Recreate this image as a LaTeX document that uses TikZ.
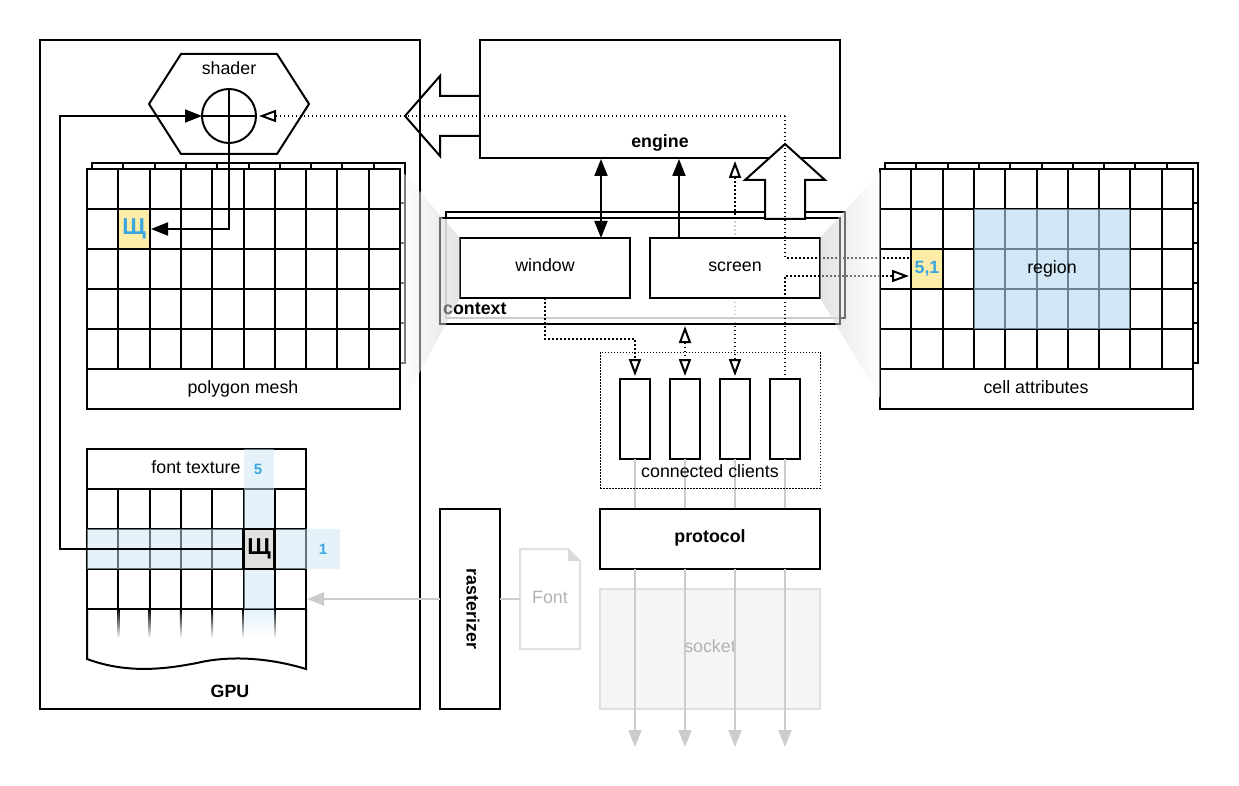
\documentclass[tikz,border=0pt]{standalone}
\usepackage{fontspec}
\setmainfont{Liberation Sans}
\usetikzlibrary{arrows.meta}
\definecolor{cellblue}{HTML}{3AA6DD}
\definecolor{cellyellow}{HTML}{FDEDA8}
\definecolor{rowblue}{HTML}{CBE6F5}
\definecolor{regionblue}{HTML}{B5D9F1}
\definecolor{fadegray}{HTML}{CCCCCC}
\tikzstyle{box} = [draw=black, fill=white, line width=2pt, rectangle, inner sep=0pt, outer sep=0pt]
\tikzstyle{fadebox} = [draw=black!12, line width=2pt, rectangle, inner sep=0pt, outer sep=0pt]
\tikzstyle{boldtext} = [font=\fontsize{17.8}{20}\selectfont\bfseries, inner sep=0pt]
\tikzstyle{plaintext} = [font=\fontsize{17.8}{20}\selectfont, inner sep=0pt]
\tikzstyle{celltext} = [font=\fontsize{15}{18}\selectfont\bfseries, text=cellblue, inner sep=0pt]
\tikzstyle{glyphcell} = [font=\fontsize{23}{26}\selectfont\bfseries, inner sep=0pt, outer sep=0pt, minimum width=30pt, minimum height=38pt]
\tikzstyle{clientbox} = [box, minimum width=30pt, minimum height=80pt]
\tikzstyle{solidtip} = [line width=2pt, {Triangle[length=17pt,width=13pt]}-{Triangle[length=17pt,width=13pt]}]
\tikzstyle{solidarrow} = [line width=2pt, -{Triangle[length=17pt,width=13pt]}]
\tikzstyle{wire} = [line width=2pt]
\tikzstyle{dotwire} = [line width=1.6pt, dash pattern=on 1.5pt off 2.5pt]
\tikzstyle{openarrow} = [dotwire, -{Triangle[fill=white,length=17pt,width=12pt,line width=2pt]}]
\tikzstyle{opentips} = [dotwire, {Triangle[fill=white,length=17pt,width=12pt,line width=2pt]}-{Triangle[fill=white,length=17pt,width=12pt,line width=2pt]}]
\tikzstyle{fadearrow} = [draw=fadegray, line width=2pt, -{Triangle[length=17pt,width=13pt]}]
\tikzstyle{bigarrow} = [draw=black, line width=2pt, line join=miter]
\tikzstyle{funnel} = [opacity=.5]
% ten columns by five rows, 313 by 200
\newcommand{\cellgrid}[2]{%
  \fill[white] (#1,#2) rectangle ++(313,200);
  \draw[wire] (#1,#2) rectangle ++(313,200);
  \foreach \n in {1,...,9} \draw[wire] ({#1+31.3*\n},#2) -- ++(0,200);
  \foreach \n in {1,...,4} \draw[wire] (#1,{#2+40*\n}) -- ++(313,0);
}
\begin{document}
\begin{tikzpicture}[x=1pt,y=-1pt]
    \useasboundingbox (0,0) rectangle (1239,786);

    % gpu side
    \node [box, fill=none, minimum width=380pt, minimum height=669pt] (gpu) at (230,374.5) {};
    \node [boldtext] (gputext) at (230,691) {GPU};
    \draw [wire, line join=miter] (149,104) -- (181,54) -- (277,54) -- (309,104) -- (277,154) -- (181,154) -- cycle;
    \node [plaintext] (shader) at (229,68) {shader};
    \node [box, fill=none, circle, minimum size=54pt] (blend) at (229,116) {};
    \draw [wire] (blend.west) -- (blend.east);
    \draw [wire] (blend.north) -- (blend.south);

    % polygon mesh
    \cellgrid{92}{163}
    \cellgrid{87}{169}
    \node [box, minimum width=313pt, minimum height=40pt] (mesh) at (243.5,389) {};
    \node [plaintext] (meshtext) at (243,389) {polygon mesh};
    \node [glyphcell, fill=cellyellow, text=cellblue] (meshcell) at (134,229) {Щ};
    \draw [solidarrow, shorten >=2pt] (blend.south) -- (229,229) -- (meshcell.east);

    % font texture
    \foreach \n in {0,...,7} \draw [wire] ({87+31.3*\n},489) -- ++(0,120);
    \foreach \n in {1,...,6} \shade [top color=black, bottom color=white] ({86+31.3*\n},609) rectangle ++(2,29);
    \foreach \n in {529,569,609} \draw [wire] (87,\n) -- (306,\n);
    \draw [wire] (87,609) -- (87,659) .. controls (130,675) and (170,668) .. (197,663)
        .. controls (230,655) and (270,658) .. (306,669) -- (306,609);
    \node [box, fill=none, minimum width=219pt, minimum height=40pt] (fonttex) at (196.5,469) {};
    \node [plaintext] (fonttext) at (196,467) {font texture};
    \fill [rowblue, opacity=.5] (244,449) rectangle (274,609);
    \shade [top color=rowblue!50, bottom color=white] (244,610) rectangle (274,638);
    \fill [rowblue, opacity=.5] (87,529) rectangle (244,569);
    \fill [rowblue, opacity=.5] (274,529) rectangle (340,569);
    \node [glyphcell, draw=black, line width=2.4pt, fill=black!12, minimum width=31pt, minimum height=40pt] (texcell) at (259,549) {Щ};
    \node [celltext] (col) at (258,469) {5};
    \node [celltext] (row) at (323,549) {1};
    \draw [solidarrow] (texcell.west) -- (60,549) -- (60,116) -- (blend.west);

    % engine and context
    \node [box, fill=none, minimum width=360pt, minimum height=118pt] (engine) at (660,99) {};
    \node [boldtext] (enginetext) at (660,143) {engine};
    \node [clientbox] (clienta) at (635,419) {};
    \node [clientbox] (clientb) at (685,419) {};
    \node [clientbox] (clientc) at (735,419) {};
    \node [clientbox] (clientd) at (785,419) {};
    \coordinate (enginea) at (601,159);
    \coordinate (engineb) at (679,159);
    \coordinate (enginec) at (735,161);
    \coordinate (contextdot) at (685,326);
    \node [box, fill=none, minimum width=399pt, minimum height=106pt] (contextback) at (645.5,265) {};
    \draw [opentips, shorten >=3pt] (enginec) -- (clientc.north);
    \node [box, fill=white, fill opacity=.8, minimum width=400pt, minimum height=106pt] (context) at (640,271) {};
    \node [box, minimum width=170pt, minimum height=60pt] (window) at (545,268) {};
    \node [box, minimum width=170pt, minimum height=60pt] (screen) at (735,268) {};
    \node [plaintext, anchor=base] (windowtext) at (545,272) {window};
    \node [plaintext, anchor=base] (screentext) at (735,272) {screen};
    \node [boldtext, anchor=west] (contexttext) at (443,309) {context};
    \draw [solidtip] (enginea) -- (601,238);
    \draw [solidarrow] (679,238) -- (engineb);
    \draw [openarrow, shorten >=3pt] (window.south) -- (545,339) -- (635,339) -- (clienta.north);
    \draw [opentips, shorten >=3pt] (contextdot) -- (clientb.north);

    % big arrows
    \draw [bigarrow] (480,96) -- (440,96) -- (440,76) -- (405,116) -- (440,156) -- (440,136) -- (480,136);
    \draw [bigarrow, fill=white] (765,219) -- (765,180) -- (745,180) -- (785,144) -- (825,180) -- (805,180) -- (805,219) -- cycle;

    % clients, protocol and socket
    \foreach \n in {clienta,clientb,clientc,clientd} \draw [draw=fadegray, line width=2pt] (\n.south) -- ++(0,50);
    \node [draw=black, line width=1pt, dash pattern=on 1.5pt off 1.5pt, minimum width=220pt, minimum height=136pt, inner sep=0pt] (clients) at (710,420) {};
    \node [plaintext] (clientstext) at (710,471) {connected clients};
    \node [fadebox, fill=black!4, minimum width=220pt, minimum height=120pt] (socket) at (710,649) {};
    \node [plaintext, text=black!30] (sockettext) at (710,646) {socket};
    \node [box, minimum width=220pt, minimum height=60pt] (protocol) at (710,539) {};
    \node [boldtext] (protocoltext) at (710,538) {protocol};
    \foreach \n in {635,685,735,785} \draw [fadearrow] (\n,569) -- (\n,747);

    % rasterizer and font file
    \node [box, minimum width=60pt, minimum height=200pt] (raster) at (470,609) {};
    \node [boldtext, rotate=-90] (rastertext) at (473,609) {rasterizer};
    \draw [fadebox, fill=white] (520,549) -- (568,549) -- (580,561) -- (580,649) -- (520,649) -- cycle;
    \fill [black!14] (568,549) -- (580,561) -- (568,561) -- cycle;
    \node [plaintext, text=black!30] (fontfile) at (550,597) {Font};
    \coordinate (fontedge) at (520,599);
    \draw [draw=fadegray, line width=2pt] (fontedge) -- (raster.east |- fontedge);
    \draw [fadearrow] (raster.west |- fontedge) -- (307,599);

    % cell attributes
    \cellgrid{885}{163}
    \cellgrid{880}{169}
    \node [box, minimum width=313pt, minimum height=40pt] (attrs) at (1036.5,389) {};
    \node [plaintext] (attrstext) at (1036,387) {cell attributes};
    \node [glyphcell, fill=cellyellow, font=\fontsize{17.8}{20}\selectfont\bfseries, text=cellblue] (attrcell) at (927,269) {5,1};
    \fill [regionblue, opacity=.6] (974,209) rectangle (1130,329);
    \node [plaintext] (region) at (1052,269) {region};

    % connector dots
    \draw [openarrow, shorten >=3pt] (785,116) -- (blend.east);
    \draw [dotwire] (785,116) -- (785,258) -- (911,258);
    \draw [openarrow, shorten >=3pt] (clientd.north) -- (785,276) -- (attrcell.west |- 0,276);

    % funnels on top of everything
    \shade [funnel, left color=white, right color=black!22] (401,170) -- (460,238) -- (460,298) -- (401,407) -- cycle;
    \shade [funnel, left color=black!22, right color=white] (820,238) -- (880,172) -- (880,398) -- (820,298) -- cycle;
\end{tikzpicture}
\end{document}
